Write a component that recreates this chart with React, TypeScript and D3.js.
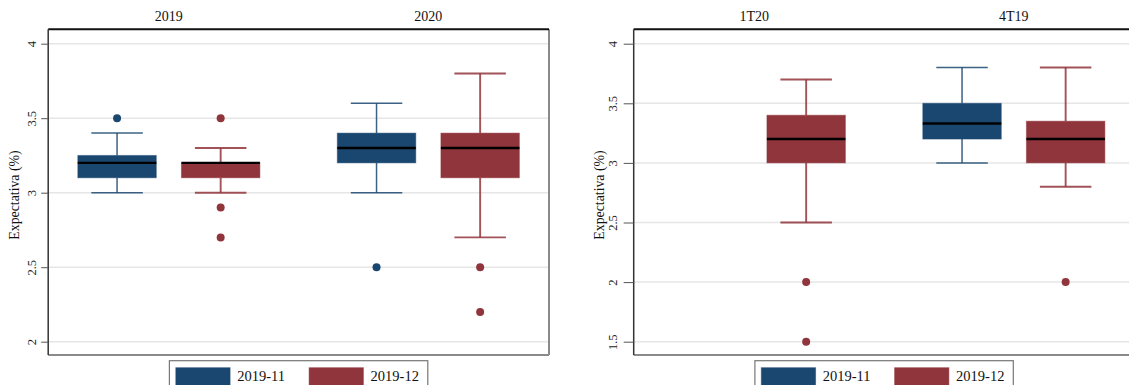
import React, { useEffect, useRef } from 'react';
import * as d3 from 'd3';

// series shown in each panel
const seriesNames = ['2019-11', '2019-12'];
const seriesColors = ['#1a476f', '#90353b'];

// categories of the two panels
const yearCategories = ['2019', '2020'];
const quarterCategories = ['1T20', '4T19'];

// box stats: [lower whisker, q1, median, q3, upper whisker]
const year11 = [[3.0, 3.1, 3.2, 3.25, 3.4], [3.0, 3.2, 3.3, 3.4, 3.6]];
const year12 = [[3.0, 3.1, 3.2, 3.2, 3.3], [2.7, 3.1, 3.3, 3.4, 3.8]];
const year11Outliers = [[3.5], [2.5]];
const year12Outliers = [[3.5, 2.9, 2.7], [2.5, 2.2]];

const quarter11 = [null, [3.0, 3.2, 3.33, 3.5, 3.8]];
const quarter12 = [[2.5, 3.0, 3.2, 3.4, 3.7], [2.8, 3.0, 3.2, 3.35, 3.8]];
const quarter11Outliers = [[], []];
const quarter12Outliers = [[2.0, 1.5], [2.0]];

// y axis ticks
const yearTicks = [2, 2.5, 3, 3.5, 4];
const quarterTicks = [1.5, 2, 2.5, 3, 3.5, 4];

const FONT = '"Liberation Serif", "Times New Roman", serif';

type Panel = {
    left: number;
    right: number;
    categories: string[];
    stats: (number[] | null)[][];
    outliers: number[][][];
    ticks: number[];
    tickLen: number;
    tickLabelOff: number;
    titleOff: number;
};

const panels: Panel[] = [
    {
        left: 48.2, right: 549,
        categories: yearCategories,
        stats: [year11, year12],
        outliers: [year11Outliers, year12Outliers],
        ticks: yearTicks,
        tickLen: 7, tickLabelOff: 12, titleOff: 29.6
    },
    {
        left: 633.7, right: 1134.5,
        categories: quarterCategories,
        stats: [quarter11, quarter12],
        outliers: [quarter11Outliers, quarter12Outliers],
        ticks: quarterTicks,
        tickLen: 10, tickLabelOff: 17, titleOff: 29.7
    }
];

const frameTop = 29.3;
const frameBottom = 355;
const plotTop = 43.7;
const plotBottom = 341.7;

export default function App() {
    const svgRef = useRef<SVGSVGElement>(null);

    useEffect(() => {
        const svg = d3.select(svgRef.current);
        svg.selectAll('*').remove();

        panels.forEach(p => {
            const g = svg.append('g');
            const y = d3.scaleLinear()
                .domain([p.ticks[0], p.ticks[p.ticks.length - 1]])
                .range([plotBottom, plotTop]);
            const x = d3.scalePoint()
                .domain(p.categories)
                .range([p.left, p.right])
                .padding(0.465);
            const xs = d3.scalePoint()
                .domain(seriesNames)
                .range([-51.8, 51.8]);
            const boxW = 78.5;
            const capW = 51.5;

            // grid lines
            g.append('g')
                .selectAll('line')
                .data(p.ticks)
                .enter()
                .append('line')
                .attr('x1', p.left)
                .attr('x2', p.right)
                .attr('y1', d => y(d))
                .attr('y2', d => y(d))
                .attr('stroke', '#e6e6e6')
                .attr('stroke-width', 1.5);

            // frame
            g.append('line')
                .attr('x1', p.left).attr('x2', p.right)
                .attr('y1', frameBottom).attr('y2', frameBottom)
                .attr('stroke', '#8a8a8a').attr('stroke-width', 2);
            g.append('line')
                .attr('x1', p.right).attr('x2', p.right)
                .attr('y1', frameTop).attr('y2', frameBottom)
                .attr('stroke', '#8a8a8a').attr('stroke-width', 2);
            g.append('line')
                .attr('x1', p.left).attr('x2', p.right)
                .attr('y1', frameTop).attr('y2', frameTop)
                .attr('stroke', '#111').attr('stroke-width', 2);

            // y axis
            const axis = g.append('g')
                .attr('transform', `translate(${p.left},0)`)
                .call(d3.axisLeft(y).tickValues(p.ticks).tickSize(p.tickLen).tickFormat(d => String(d)));
            axis.select('.domain')
                .attr('d', `M0,${frameTop}V${frameBottom}`)
                .attr('stroke', '#333')
                .attr('stroke-width', 1.5);
            axis.selectAll('.tick line').attr('stroke', '#555');
            axis.selectAll('.tick text')
                .attr('x', 0)
                .attr('dy', 0)
                .attr('text-anchor', 'middle')
                .attr('transform', `translate(${-p.tickLabelOff},0) rotate(-90)`)
                .attr('fill', '#222')
                .style('font-family', FONT)
                .style('font-size', '12.5px');

            // y title
            g.append('text')
                .attr('text-anchor', 'middle')
                .attr('transform', `translate(${p.left - p.titleOff},195) rotate(-90)`)
                .style('font-family', FONT)
                .style('font-size', '13.8px')
                .attr('fill', '#111')
                .text('Expectativa (%)');

            // category labels
            g.append('g')
                .selectAll('text')
                .data(p.categories)
                .enter()
                .append('text')
                .attr('x', d => x(d) as number)
                .attr('y', 20.7)
                .attr('text-anchor', 'middle')
                .style('font-family', FONT)
                .style('font-size', '14px')
                .attr('fill', '#111')
                .text(d => d);

            // boxes
            seriesNames.forEach((s, si) => {
                const color = seriesColors[si];
                p.categories.forEach((c, ci) => {
                    const st = p.stats[si][ci];
                    const cx = (x(c) as number) + (xs(s) as number);
                    const bg = g.append('g');
                    if (st) {
                        const [lo, q1, med, q3, hi] = st;
                        const wl = si === 0 ? 1.5 : 1.9;
                        bg.append('line')
                            .attr('x1', cx).attr('x2', cx)
                            .attr('y1', y(hi)).attr('y2', y(q3))
                            .attr('stroke', color).attr('stroke-width', wl).attr('stroke-opacity', 0.85);
                        bg.append('line')
                            .attr('x1', cx).attr('x2', cx)
                            .attr('y1', y(q1)).attr('y2', y(lo))
                            .attr('stroke', color).attr('stroke-width', wl).attr('stroke-opacity', 0.85);
                        [lo, hi].forEach(v => {
                            bg.append('line')
                                .attr('x1', cx - capW / 2).attr('x2', cx + capW / 2)
                                .attr('y1', y(v)).attr('y2', y(v))
                                .attr('stroke', color).attr('stroke-width', wl).attr('stroke-opacity', 0.85);
                        });
                        bg.append('rect')
                            .attr('x', cx - boxW / 2)
                            .attr('y', y(q3))
                            .attr('width', boxW)
                            .attr('height', Math.max(y(q1) - y(q3), 0.5))
                            .attr('fill', color)
                            .attr('stroke', color)
                            .attr('stroke-opacity', 0.45)
                            .attr('stroke-width', 1);
                        bg.append('line')
                            .attr('x1', cx - boxW / 2).attr('x2', cx + boxW / 2)
                            .attr('y1', y(med)).attr('y2', y(med))
                            .attr('stroke', '#000').attr('stroke-width', 2.4);
                    }
                    bg.selectAll('circle')
                        .data(p.outliers[si][ci])
                        .enter()
                        .append('circle')
                        .attr('cx', cx)
                        .attr('cy', d => y(d))
                        .attr('r', 4)
                        .attr('fill', color);
                });
            });

            // legend
            const mid = (p.left + p.right) / 2;
            const lg = g.append('g').attr('transform', `translate(${mid - 129.2},360.7)`);
            lg.append('rect')
                .attr('x', 0).attr('y', 0)
                .attr('width', 258.4).attr('height', 40)
                .attr('fill', '#fff')
                .attr('stroke', '#777')
                .attr('stroke-width', 1.2);
            seriesNames.forEach((s, i) => {
                const ox = 6.4 + i * 133.3;
                lg.append('rect')
                    .attr('x', ox).attr('y', 7)
                    .attr('width', 54.3).attr('height', 26)
                    .attr('fill', seriesColors[i])
                    .attr('stroke', seriesColors[i])
                    .attr('stroke-opacity', 0.5);
                lg.append('text')
                    .attr('x', ox + 61.5)
                    .attr('y', 20.6)
                    .style('font-family', FONT)
                    .style('font-size', '14.5px')
                    .attr('fill', '#111')
                    .text(s);
            });
        });
    }, []);

    return (
        <div>
            <svg ref={svgRef} width={1129} height={385}
                style={{ position: 'absolute', left: 0, top: 0, background: '#fff' }}></svg>
        </div>
    );
}
